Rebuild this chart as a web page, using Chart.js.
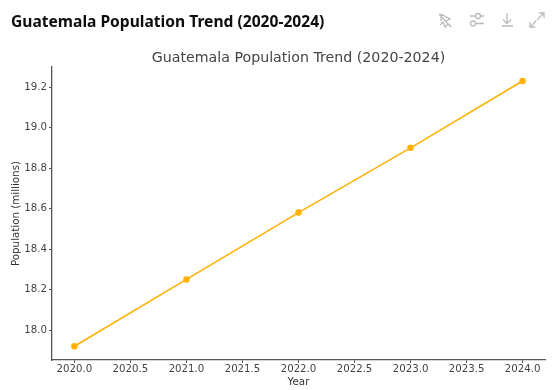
<!DOCTYPE html>
<html>
<head>
<meta charset="utf-8">
<script src="https://cdn.jsdelivr.net/npm/chart.js@4/dist/chart.umd.min.js"></script>
<style>
  html, body { margin: 0; padding: 0; background: #fff; }
  body { width: 556px; height: 390px; position: relative; overflow: hidden; }
  #heading { position: absolute; left: 11px; top: 9px; font: bold 15.6px/24px "Noto Sans", sans-serif; color: #0d0d0d; white-space: nowrap; }
  #icons { position: absolute; left: 0; top: 0; }
  #chartBox { position: absolute; left: 0; top: 0; width: 556px; height: 390px; }
</style>
</head>
<body>
<div id="chartBox"><canvas id="myChart" width="556" height="390"></canvas></div>
<div id="heading">Guatemala Population Trend (2020-2024)</div>
<svg id="icons" width="556" height="40" fill="none" stroke="#bbbbbb" stroke-width="1.3">
  <path d="M441 14 L450 19 L446 21 M441 14 V21 M439 14 L451 27 M440 25 L443 22 L445 27 L448 24 L451 26" />
  <path d="M470 16 H484 M470 23.5 H484" />
  <circle cx="478" cy="16" r="2.5" fill="#fff" />
  <circle cx="473" cy="23.5" r="2.5" fill="#fff" />
  <path d="M507 13 V23 M503 19.5 L507 23.5 L511 19.5 M502 26 H513" />
  <path d="M537 20 L544 13 M539 13 H544 V18 M530 27 L536 21 M530 22 V27 H535" />
</svg>
<script>
// Datos
var years = [2020, 2021, 2022, 2023, 2024];
var population = [17.92, 18.25, 18.58, 18.90, 19.23];
var xTicks = [2020, 2020.5, 2021, 2021.5, 2022, 2022.5, 2023, 2023.5, 2024];
var yTicks = [18.0, 18.2, 18.4, 18.6, 18.8, 19.0, 19.2];

var tickFont = { family: "'DejaVu Sans'", size: 10.2 };
var labelFont = { family: "'DejaVu Sans'", size: 10.3 };
var points = years.map(function(y, i) { return { x: y, y: population[i] }; });

function useTicks(list) {
    return function(axis) {
        axis.ticks = list.map(function(v) { return { value: v }; });
    };
}

// El titulo va centrado sobre el area del grafico, no sobre el canvas
var centerTitle = {
    id: 'centerTitle',
    beforeDraw: function(chart) {
        chart.titleBlock.left = chart.chartArea.left;
        chart.titleBlock.right = chart.chartArea.right;
    }
};

var ctx = document.getElementById('myChart').getContext('2d');
var myChart = new Chart(ctx, {
    type: 'line',
    plugins: [centerTitle],
    data: {
        datasets: [{
            label: 'Population',
            data: points,
            borderColor: '#ffb000',
            backgroundColor: '#ffb000',
            borderWidth: 1.5,
            pointRadius: 2.5,
            tension: 0
        }]
    },
    options: {
        responsive: false,
        animation: false,
        layout: { padding: { left: 0, right: 11, top: 0, bottom: 0 } },
        plugins: {
            legend: { display: false },
            tooltip: { enabled: false },
            title: {
                display: true,
                text: 'Guatemala Population Trend (2020-2024)',
                color: '#444444',
                font: { family: "'DejaVu Sans'", size: 14.2, weight: 'normal' },
                padding: { top: 50, bottom: 0 }
            }
        },
        scales: {
            x: {
                type: 'linear',
                min: 2019.8,
                max: 2024.2,
                afterBuildTicks: useTicks(xTicks),
                afterFit: function(axis) { axis.height = 30; },
                title: { display: true, text: 'Year', color: '#333333', font: labelFont, padding: { top: 0, bottom: 1 } },
                border: { color: '#555555', width: 1.3 },
                grid: { drawOnChartArea: false, color: '#555555', tickLength: 3 },
                ticks: {
                    color: '#444444',
                    font: tickFont,
                    padding: 0,
                    maxRotation: 0,
                    autoSkip: false,
                    callback: function(v) { return v.toFixed(1); }
                }
            },
            y: {
                min: 17.852,
                max: 19.299,
                afterBuildTicks: useTicks(yTicks),
                afterFit: function(axis) { axis.width = 52; },
                title: { display: true, text: 'Population (millions)', color: '#333333', font: labelFont, padding: { top: 10, bottom: 0 } },
                border: { color: '#555555', width: 1.3 },
                grid: { drawOnChartArea: false, color: '#555555', tickLength: 3 },
                ticks: {
                    color: '#444444',
                    font: tickFont,
                    padding: 2,
                    autoSkip: false,
                    callback: function(v) { return v.toFixed(1); }
                }
            }
        }
    }
});
</script>
</body>
</html>
